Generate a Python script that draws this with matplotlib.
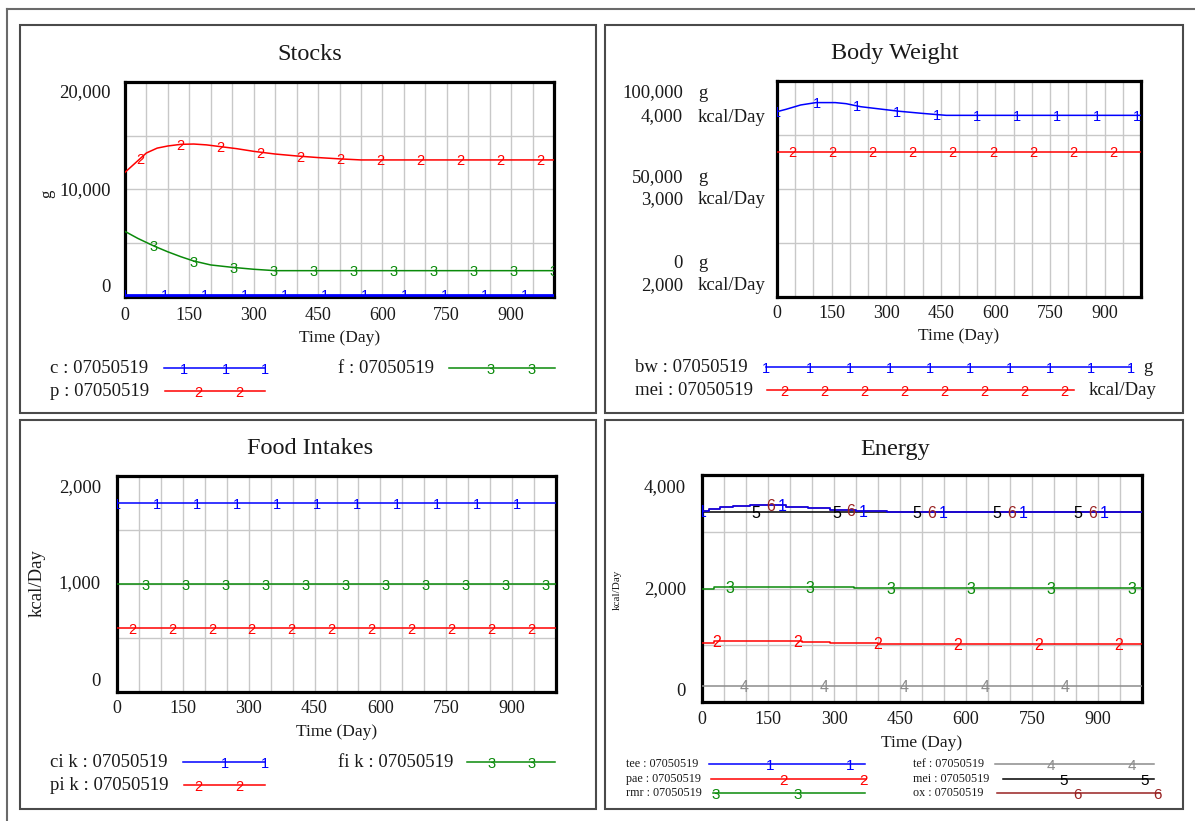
import numpy as np
import matplotlib
matplotlib.use('Agg')
import matplotlib.pyplot as plt
from matplotlib.lines import Line2D
from matplotlib.patches import Rectangle
import matplotlib.transforms as mtrans

# ---------------- data ----------------
x_tick_labels = [0, 150, 300, 450, 600, 750, 900]

# Stocks (g)
stocks_t_c = [0, 1000]
stocks_c = [200, 200]
stocks_t_p = [0, 25, 50, 75, 100, 130, 160, 190, 220, 260, 300, 350, 400, 450, 500, 550, 1000]
stocks_p = [11600, 12500, 13400, 13850, 14050, 14200, 14230, 14150, 14000, 13800,
            13550, 13300, 13120, 12970, 12850, 12750, 12750]
stocks_t_f = [0, 30, 67, 100, 130, 160, 200, 250, 300, 350, 1000]
stocks_f = [6100, 5450, 4750, 4200, 3750, 3350, 2980, 2760, 2580, 2450, 2450]
stocks_yticks = ["20,000", "10,000", "0"]

# Body weight
bw_t = [0, 25, 65, 107, 160, 190, 230, 275, 335, 400, 465, 1000]
bw = [85800, 86900, 88900, 90000, 90000, 89500, 88100, 87200, 86000, 85000, 84100, 84100]
bw_mei_t = [0, 1000]
bw_mei = [3345, 3345]
bw_left_labels = [["100,000", "4,000"], ["50,000", "3,000"], ["0", "2,000"]]

# Food intakes (kcal/Day)
fi_t = [0, 1000]
ci_k = [1750, 1750]
pi_k = [590, 590]
fi_k = [1000, 1000]
fi_yticks = ["2,000", "1,000", "0"]

# Energy (kcal/Day)
en_t_tee = [0, 15, 40, 70, 110, 190, 240, 290, 350, 420, 1000]
tee = [3372, 3395, 3428, 3452, 3470, 3440, 3412, 3390, 3368, 3345, 3345]
en_t_pae = [0, 27, 228, 290, 400, 1000]
pae = [1035, 1080, 1063, 1042, 1022, 1022]
en_t_rmr = [0, 27, 245, 346, 1000]
rmr = [2000, 2035, 2020, 2002, 2002]
en_t_tef = [0, 1000]
tef = [290, 290]
en_t_mei = [0, 1000]
en_mei = [3345, 3345]
en_t_ox = [0, 15, 40, 70, 110, 190, 240, 290, 350, 420, 1000]
ox = [3372, 3395, 3428, 3452, 3470, 3440, 3412, 3390, 3368, 3345, 3345]
en_yticks = ["4,000", "2,000", "0"]

RUN = "07050519"

# ---------------- style ----------------
W, H = 1195, 821
SERIF = 'Liberation Serif'
MARKF = ['Liberation Sans Narrow', 'Liberation Sans', 'DejaVu Sans']
TXT = '#1a1a1a'
BLUE, RED, GREEN, GRAY, BLACK, MAROON = '#0000FF', '#FF0000', '#0A8A0A', '#8C8C8C', '#000000', '#992222'
LW = 1.1
MFS = 10.5

fig = plt.figure(figsize=(W / 100, H / 100), dpi=100)
fig.patch.set_facecolor('white')


def off(dx, dy):
    return mtrans.ScaledTranslation(dx / 100, -dy / 100, fig.dpi_scale_trans)


def px_axes(l, t, r, b):
    return fig.add_axes([l / W, 1 - b / H, (r - l) / W, (b - t) / H])


def style_axes(ax, ylim):
    ax.set_xlim(0, 1000)
    ax.set_ylim(*ylim)
    ax.set_xticks(np.arange(0, 1001, 50))
    ax.set_yticks(np.linspace(ylim[0], ylim[1], 5))
    ax.tick_params(length=0, labelbottom=False, labelleft=False)
    ax.grid(True, color='#C8C8C8', lw=1.0)
    ax.set_axisbelow(True)
    for s in ax.spines.values():
        s.set_linewidth(2.3)
        s.set_color('black')
        s.set_zorder(2.5)


def x_labels(ax, dy_tick, dy_label):
    tr = mtrans.blended_transform_factory(ax.transData, ax.transAxes)
    for v in x_tick_labels:
        ax.text(v, 0, f"{v}", transform=tr + off(0, dy_tick), ha='center', va='center',
                fontsize=13, family=SERIF, color=TXT, clip_on=False)
    ax.text(0.5, 0, 'Time (Day)', transform=ax.transAxes + off(0, dy_label), ha='center',
            va='center', fontsize=12.5, family=SERIF, color=TXT)


def y_labels(ax, labels, dx, dys, ylim):
    tr = mtrans.blended_transform_factory(ax.transAxes, ax.transData)
    vals = [ylim[1], (ylim[0] + ylim[1]) / 2, ylim[0]]
    for lab, v, dy in zip(labels, vals, dys):
        ax.text(0, v, lab, transform=tr + off(dx, dy), ha='right', va='center',
                fontsize=13.5, family=SERIF, color=TXT)


def markers(ax, t, v, start, period, digit, color, steps=False, fs=MFS):
    pos = np.arange(start, 1000.01, period)
    t = np.asarray(t, float)
    v = np.asarray(v, float)
    if steps:
        y = v[np.clip(np.searchsorted(t, pos, side='right') - 1, 0, len(v) - 1)]
    else:
        y = np.interp(pos, t, v)
    for xx, yy in zip(pos, y):
        ax.text(xx, yy, digit, color=color, fontsize=fs, ha='center', va='center_baseline',
                family=MARKF, clip_on=True, zorder=4)


def legend_row(x_text, y, label, x1, x2, mpos, digit, color, fs_text=13.5, fs_mark=MFS,
               unit=None, unit_x=None):
    fig.text(x_text / W, 1 - y / H, label, ha='left', va='center', fontsize=fs_text,
             family=SERIF, color=TXT)
    fig.add_artist(Line2D([x1 / W, x2 / W], [1 - y / H] * 2, color=color, lw=LW))
    for m in mpos:
        fig.text(m / W, 1 - y / H, digit, color=color, ha='center', va='center_baseline',
                 fontsize=fs_mark, family=MARKF)
    if unit:
        fig.text(unit_x / W, 1 - y / H, unit, ha='left', va='center', fontsize=fs_text,
                 family=SERIF, color=TXT)


def title(x, y, s):
    fig.text(x / W, 1 - y / H, s, ha='center', va='center', fontsize=17.5, family=SERIF, color=TXT)


# ---------------- frames ----------------
fig.add_artist(Line2D([7 / W, 7 / W], [1 - 9 / H, 0], color='#6a6a6a', lw=1.5))
fig.add_artist(Line2D([7 / W, 1], [1 - 9 / H, 1 - 9 / H], color='#6a6a6a', lw=1.5))
for (l, t, r, b) in [(20, 25, 596, 413), (605, 25, 1183, 413), (20, 420, 596, 809), (605, 420, 1183, 809)]:
    fig.add_artist(Rectangle((l / W, 1 - b / H), (r - l) / W, (b - t) / H, transform=fig.transFigure,
                             fill=False, edgecolor='#4a4a4a', lw=1.5))

# ---------------- Stocks ----------------
ax = px_axes(125, 82, 554, 297)
ylim = (0, 20000)
style_axes(ax, ylim)
ax.plot(stocks_t_f, stocks_f, color=GREEN, lw=LW, zorder=3)
ax.plot(stocks_t_p, stocks_p, color=RED, lw=LW, zorder=3)
ax.plot(stocks_t_c, stocks_c, color=BLUE, lw=2.0, zorder=3)
markers(ax, stocks_t_c, stocks_c, 0, 93.2, '1', BLUE)
markers(ax, stocks_t_p, stocks_p, 35, 93.2, '2', RED)
markers(ax, stocks_t_f, stocks_f, 67, 93.2, '3', GREEN)
x_labels(ax, 18, 41)
y_labels(ax, stocks_yticks, -14, [11, 1, -10], ylim)
fig.text(47 / W, 1 - 194 / H, 'g', rotation=90, ha='center', va='center', fontsize=12,
         family=SERIF, color=TXT)
title(310, 54, 'Stocks')
legend_row(50, 368, f"c : {RUN}", 164, 265, [184, 226, 265], '1', BLUE)
legend_row(50, 391, f"p : {RUN}", 165, 265, [198, 239], '2', RED)
legend_row(338, 368, f"f : {RUN}", 449, 555, [491, 532], '3', GREEN)

# ---------------- Body Weight ----------------
ax = px_axes(777, 81, 1141, 297)
ylim = (0, 100000)
style_axes(ax, ylim)
ax2 = ax.twinx()
ax2.set_ylim(2000, 4000)
ax2.set_xlim(0, 1000)
ax2.set_yticks([])
for s in ax2.spines.values():
    s.set_visible(False)
ax2.plot(bw_mei_t, bw_mei, color=RED, lw=LW, zorder=3)
ax.plot(bw_t, bw, color=BLUE, lw=LW, zorder=3)
markers(ax, bw_t, bw, 0, 110, '1', BLUE)
markers(ax2, bw_mei_t, bw_mei, 43, 110, '2', RED)
x_labels(ax, 17, 39)
tr = mtrans.blended_transform_factory(ax.transAxes, ax.transData)
vals = [100000, 50000, 0]
dys = [(12, 36), (-11, 11), (-33, -11)]
for (num, kc), v, (d1, d2) in zip(bw_left_labels, vals, dys):
    ax.text(0, v, num, transform=tr + off(-94, d1), ha='right', va='center', fontsize=13.5,
            family=SERIF, color=TXT)
    ax.text(0, v, 'g', transform=tr + off(-79, d1), ha='left', va='center', fontsize=13.5,
            family=SERIF, color=TXT)
    ax.text(0, v, kc, transform=tr + off(-94, d2), ha='right', va='center', fontsize=13.5,
            family=SERIF, color=TXT)
    ax.text(0, v, 'kcal/Day', transform=tr + off(-79, d2), ha='left', va='center', fontsize=13.5,
            family=SERIF, color=TXT)
title(895, 53, 'Body Weight')
legend_row(635, 367, f"bw : {RUN}", 766, 1131,
           [766, 810, 850, 890, 930, 970, 1010, 1050, 1091, 1131], '1', BLUE,
           unit='g', unit_x=1143)
legend_row(635, 390, f"mei : {RUN}", 767, 1074,
           [784, 824, 864, 904, 944, 984, 1024, 1064], '2', RED,
           unit='kcal/Day', unit_x=1089)

# ---------------- Food Intakes ----------------
ax = px_axes(117, 476, 556, 692)
ylim = (0, 2000)
style_axes(ax, ylim)
ax.plot(fi_t, fi_k, color=GREEN, lw=LW, zorder=3)
ax.plot(fi_t, pi_k, color=RED, lw=LW, zorder=3)
ax.plot(fi_t, ci_k, color=BLUE, lw=LW, zorder=3)
markers(ax, fi_t, ci_k, 0, 91, '1', BLUE)
markers(ax, fi_t, pi_k, 34, 91, '2', RED)
markers(ax, fi_t, fi_k, 66, 91, '3', GREEN)
x_labels(ax, 16, 40)
y_labels(ax, fi_yticks, -16, [12, 0, -11], ylim)
fig.text(37 / W, 1 - 583 / H, 'kcal/Day', rotation=90, ha='center', va='center', fontsize=13.5,
         family=SERIF, color=TXT)
title(310, 448, 'Food Intakes')
legend_row(50, 762, f"ci k : {RUN}", 183, 265, [225, 265], '1', BLUE)
legend_row(50, 785, f"pi k : {RUN}", 184, 265, [198, 239], '2', RED)
legend_row(338, 762, f"fi k : {RUN}", 467, 555, [492, 532], '3', GREEN)

# ---------------- Energy ----------------
ax = px_axes(702, 475, 1142, 702)
ylim = (0, 4000)
style_axes(ax, ylim)
P = 182.7
ax.plot(en_t_tef, tef, color=GRAY, lw=LW, zorder=3, drawstyle='steps-post')
ax.plot(en_t_rmr, rmr, color=GREEN, lw=LW, zorder=3, drawstyle='steps-post')
ax.plot(en_t_pae, pae, color=RED, lw=LW, zorder=3, drawstyle='steps-post')
ax.plot(en_t_mei, en_mei, color=BLACK, lw=LW, zorder=3, drawstyle='steps-post')
ax.plot(en_t_ox, ox, color=MAROON, lw=LW, zorder=3, drawstyle='steps-post')
ax.plot(en_t_tee, tee, color=BLUE, lw=LW, zorder=3, drawstyle='steps-post')
EFS = 11.5
markers(ax, en_t_tee, tee, 0, P, '1', BLUE, steps=True, fs=EFS)
markers(ax, en_t_pae, pae, 33.5, P, '2', RED, steps=True, fs=EFS)
markers(ax, en_t_rmr, rmr, 63, P, '3', GREEN, steps=True, fs=EFS)
markers(ax, en_t_tef, tef, 95, P, '4', GRAY, steps=True, fs=EFS)
markers(ax, en_t_mei, en_mei, 123, P, '5', BLACK, steps=True, fs=EFS)
markers(ax, en_t_ox, ox, 156, P, '6', MAROON, steps=True, fs=EFS)
x_labels(ax, 18, 41)
y_labels(ax, en_yticks, -16, [13, 1, -10], ylim)
fig.text(617 / W, 1 - 590 / H, 'kcal/Day', rotation=90, ha='center', va='center', fontsize=8,
         family=SERIF, color=TXT)
title(895, 449, 'Energy')
fs_t, fs_m = 8.7, 11
legend_row(626, 764, f"tee : {RUN}", 709, 865, [770, 850], '1', BLUE, fs_t, fs_m)
legend_row(626, 779, f"pae : {RUN}", 711, 866, [784, 863], '2', RED, fs_t, fs_m)
legend_row(626, 793, f"rmr : {RUN}", 713, 865, [716, 798], '3', GREEN, fs_t, fs_m)
legend_row(913, 764, f"tef : {RUN}", 995, 1154, [1051, 1132], '4', GRAY, fs_t, fs_m)
legend_row(913, 779, f"mei : {RUN}", 1003, 1154, [1064, 1145], '5', BLACK, fs_t, fs_m)
legend_row(913, 793, f"ox : {RUN}", 997, 1160, [1077, 1157], '6', MAROON, fs_t, fs_m)

fig.savefig('out.png', dpi=100, facecolor='white')
